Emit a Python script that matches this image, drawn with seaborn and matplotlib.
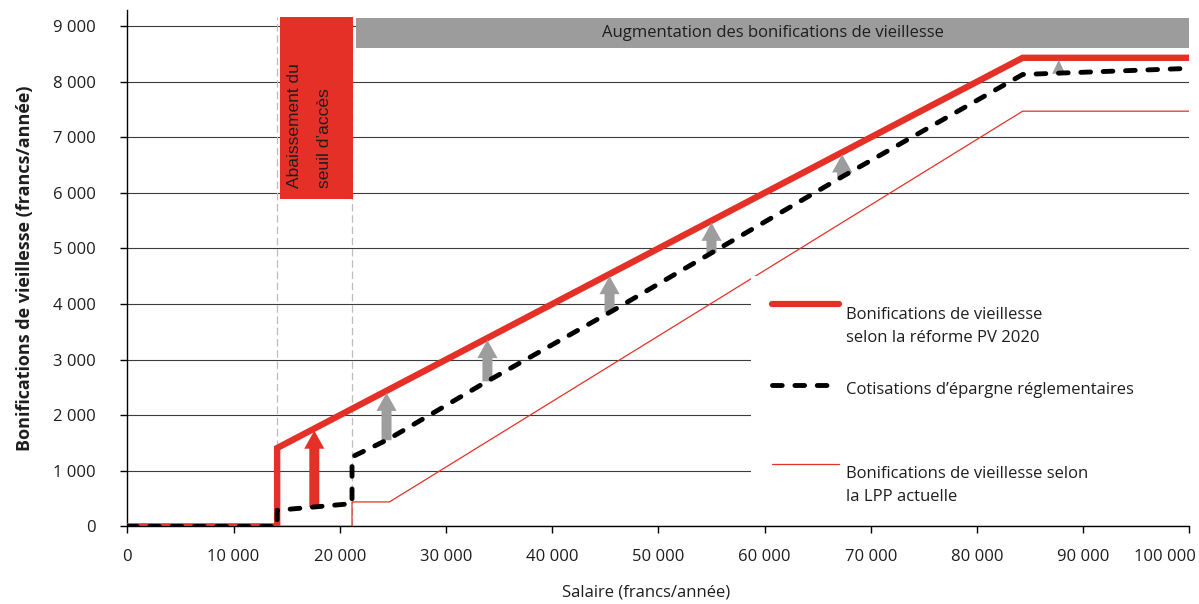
import matplotlib
matplotlib.use("Agg")
import matplotlib.pyplot as plt
from matplotlib import font_manager
from matplotlib.patches import Rectangle
from matplotlib.lines import Line2D
from matplotlib.transforms import ScaledTranslation
import seaborn as sns

# Old-age credits (francs/year) as a function of the annual salary
reform_salary = [0, 14100, 14100, 84300, 100000]
reform_credit = [0, 0, 1410, 8430, 8430]

savings_salary = [0, 14100, 14100, 21150, 21150, 24500, 33600, 45600, 55000, 67300, 84300, 100000]
savings_credit = [0, 0, 290, 410, 1250, 1560, 2580, 3870, 4920, 6290, 8130, 8240]

current_salary = [0, 21150, 21150, 24675, 84300, 100000]
current_credit = [0, 0, 440, 440, 7470, 7470]

# Increase arrows: salary, from the statutory savings contribution up to the reform credit
arrow_salary = [17600, 24400, 33900, 45400, 55000, 67300, 87700]
arrow_from = [350, 1550, 2610, 3850, 4920, 6290, 8160]
arrow_to = [1760, 2440, 3390, 4540, 5500, 6730, 8430]

# Entry thresholds (reform / current law)
thresholds = [14100, 21150]

x_ticks = [0, 10000, 20000, 30000, 40000, 50000, 60000, 70000, 80000, 90000, 100000]
x_tick_labels = ["0", "10 000", "20 000", "30 000", "40 000", "50 000",
                 "60 000", "70 000", "80 000", "90 000", "100 000"]
y_ticks = [0, 1000, 2000, 3000, 4000, 5000, 6000, 7000, 8000, 9000]
y_tick_labels = ["0", "1 000", "2 000", "3 000", "4 000", "5 000",
                 "6 000", "7 000", "8 000", "9 000"]

label_reform = "Bonifications de vieillesse\nselon la réforme PV 2020"
label_savings = "Cotisations d’épargne réglementaires"
label_current = "Bonifications de vieillesse selon\nla LPP actuelle"
label_access = "Abaissement du\nseuil d’accès"
label_increase = "Augmentation des bonifications de vieillesse"

RED = "#E53027"
GREY_BOX = "#9C9C9C"
GREY_ARROW = "#9D9D9D"
TEXT = "#1e1e1e"
DASH = (0, (2.0, 2.6))

sns.set_theme(style="white")
plt.rcParams["font.family"] = ["Open Sans", "DejaVu Sans"]
plt.rcParams["font.size"] = 12


def has_font(name):
    try:
        font_manager.findfont(font_manager.FontProperties(family=name),
                              fallback_to_default=False)
        return True
    except ValueError:
        return False


if has_font("Liberation Sans Narrow"):
    narrow_family, narrow_size = ["Liberation Sans Narrow", "DejaVu Sans"], 15.5
else:
    narrow_family, narrow_size = ["Liberation Sans", "DejaVu Sans"], 12.5

W, H = 1199, 604
fig = plt.figure(figsize=(W / 100, H / 100), dpi=100)
ax = fig.add_axes([127.4 / W, 77.6 / H, 1062 / W, 516.4 / H])


def fig_xy(px, py):
    return px / W, 1 - py / H


# Lines
sns.lineplot(x=current_salary, y=current_credit, ax=ax, estimator=None, sort=False,
             color=RED, lw=0.9, zorder=1.2)
sns.lineplot(x=reform_salary, y=reform_credit, ax=ax, estimator=None, sort=False,
             color=RED, lw=4.6, zorder=3, solid_joinstyle="miter")
sns.lineplot(x=savings_salary, y=savings_credit, ax=ax, estimator=None, sort=False,
             color="black", lw=3.5, linestyle=DASH,
             dash_capstyle="round", zorder=4)

# Arrows showing the increase
for i, (xs, y0, y1) in enumerate(zip(arrow_salary, arrow_from, arrow_to)):
    if i == 0:
        color, style = RED, "simple,head_length=1.3,head_width=1.45,tail_width=0.72"
    elif i == len(arrow_salary) - 1:
        color, style = GREY_ARROW, "simple,head_length=1.0,head_width=0.95,tail_width=0.01"
    else:
        color, style = GREY_ARROW, "simple,head_length=1.3,head_width=1.45,tail_width=0.72"
    ax.annotate("", xy=(xs, y1), xytext=(xs, y0),
                arrowprops=dict(arrowstyle=style, mutation_scale=10, color=color,
                                lw=0, shrinkA=0, shrinkB=1.5),
                zorder=3.5)

# Threshold guides
ax.vlines(thresholds, 0, 9170, colors="#BDBDBD", lw=0.9,
          linestyles=(0, (6, 3)), zorder=1.1)

# Header boxes
ax.add_patch(Rectangle((14370, 5890), 21220 - 14370, 9170 - 5890,
                       facecolor=RED, edgecolor="none", zorder=2, clip_on=False))
ax.text(17150, 6080, label_access, rotation=90, ha="center", va="bottom",
        multialignment="left", family=narrow_family, fontsize=narrow_size,
        color=TEXT, linespacing=2.2, zorder=2.1)
ax.add_patch(Rectangle((21530, 8610), 100000 - 21530, 9140 - 8610,
                       facecolor=GREY_BOX, edgecolor="none", zorder=2, clip_on=False))
ax.text((21530 + 100000) / 2, (8610 + 9140) / 2, label_increase, ha="center",
        va="center", fontsize=12, color=TEXT, zorder=2.1)

# Legend panel
x0, y0 = fig_xy(751, 510)
x1, y1 = fig_xy(1199, 276)
ax.add_patch(Rectangle((x0, y0), x1 - x0, y1 - y0, transform=fig.transFigure,
                       facecolor="white", edgecolor="none", zorder=1.5, clip_on=False))

# (handle y, baseline of the last text line, text, line style) in pixels
handles = [
    (304, 341.7, label_reform, dict(color=RED, lw=4.5, solid_capstyle="round")),
    (384.7, 394.3, label_savings, dict(color="black", lw=3.5, linestyle=DASH,
                                       dash_capstyle="round")),
    (463.7, 501.0, label_current, dict(color=RED, lw=0.9)),
]
for hy, ty, text, style in handles:
    (hx0, fy), (hx1, _) = fig_xy(772, hy), fig_xy(839, hy)
    fig.add_artist(Line2D([hx0, hx1], [fy, fy], transform=fig.transFigure, **style))
    tx, tyf = fig_xy(846, ty)
    fig.text(tx, tyf, text, ha="left", va="baseline", fontsize=12, color=TEXT,
             linespacing=1.55)

# Axes styling
ax.set_xlim(0, 100000)
ax.set_ylim(0, 9290)
ax.set_xticks(x_ticks)
ax.set_xticklabels(x_tick_labels)
ax.set_yticks(y_ticks)
ax.set_yticklabels(y_tick_labels)
ax.yaxis.grid(True, color="#3c3c3c", lw=0.8)
ax.xaxis.grid(False)
ax.set_axisbelow(True)
sns.despine(ax=ax)
for side in ("left", "bottom"):
    ax.spines[side].set_color("black")
    ax.spines[side].set_linewidth(1.0)
ax.tick_params(axis="both", bottom=True, left=True, direction="out", length=5,
               width=1, color="black", labelsize=12, labelcolor=TEXT)
ax.tick_params(axis="x", pad=11)
ax.tick_params(axis="y", pad=18)

# keep the last salary label inside the figure
last = ax.get_xticklabels()[-1]
last.set_transform(last.get_transform() + ScaledTranslation(-0.24, 0, fig.dpi_scale_trans))

ax.set_xlabel("Salaire (francs/année)", fontsize=12, color=TEXT)
ax.xaxis.set_label_coords(0.488, -0.112)
ax.set_ylabel("Bonifications de vieillesse (francs/année)", fontsize=13,
              fontweight="bold", color=TEXT)
ax.yaxis.set_label_coords(-0.088, 0.5)

fig.savefig("out.png", dpi=100)
